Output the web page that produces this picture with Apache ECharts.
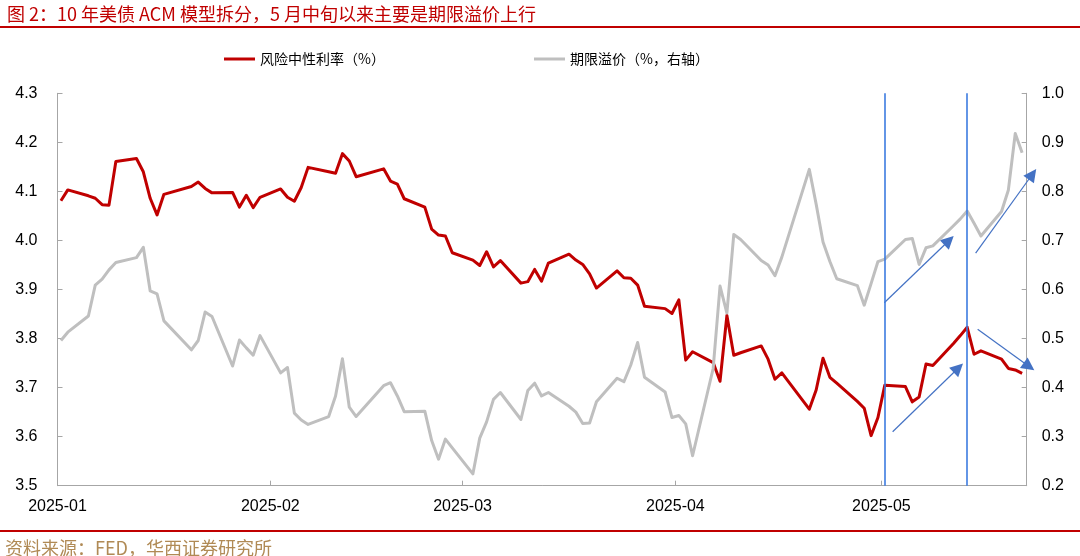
<!DOCTYPE html>
<html><head><meta charset="utf-8">
<script src="https://cdn.jsdelivr.net/npm/echarts@6/dist/echarts.min.js"></script>
<style>html,body{margin:0;padding:0;background:#fff}#c{width:1080px;height:556px}</style>
</head><body><div id="c"></div>
<script>
// ---------- data ----------
const dates = [
 '2025-01-02','2025-01-03','2025-01-06','2025-01-07','2025-01-08','2025-01-09','2025-01-10','2025-01-13','2025-01-14','2025-01-15','2025-01-16','2025-01-17','2025-01-21','2025-01-22','2025-01-23','2025-01-24','2025-01-27','2025-01-28','2025-01-29','2025-01-30','2025-01-31',
 '2025-02-03','2025-02-04','2025-02-05','2025-02-06','2025-02-07','2025-02-10','2025-02-11','2025-02-12','2025-02-13','2025-02-14','2025-02-18','2025-02-19','2025-02-20','2025-02-21','2025-02-24','2025-02-25','2025-02-26','2025-02-27','2025-02-28',
 '2025-03-03','2025-03-04','2025-03-05','2025-03-06','2025-03-07','2025-03-10','2025-03-11','2025-03-12','2025-03-13','2025-03-14','2025-03-17','2025-03-18','2025-03-19','2025-03-20','2025-03-21','2025-03-24','2025-03-25','2025-03-26','2025-03-27','2025-03-28','2025-03-31',
 '2025-04-01','2025-04-02','2025-04-03','2025-04-04','2025-04-07','2025-04-08','2025-04-09','2025-04-10','2025-04-11','2025-04-14','2025-04-15','2025-04-16','2025-04-17','2025-04-21','2025-04-22','2025-04-23','2025-04-24','2025-04-25','2025-04-28','2025-04-29','2025-04-30',
 '2025-05-01','2025-05-02','2025-05-05','2025-05-06','2025-05-07','2025-05-08','2025-05-09','2025-05-12','2025-05-13','2025-05-14','2025-05-15','2025-05-16','2025-05-19','2025-05-20','2025-05-21','2025-05-22'
];
const riskNeutralRate = [
 4.081,4.103,4.091,4.086,4.073,4.072,4.161,4.167,4.140,4.086,4.052,4.094,4.110,4.119,4.106,4.097,4.098,4.068,4.092,4.067,4.088,
 4.105,4.088,4.080,4.108,4.149,4.140,4.137,4.177,4.162,4.130,4.146,4.121,4.115,4.085,4.068,4.023,4.011,4.009,3.975,
 3.960,3.949,3.977,3.946,3.959,3.913,3.916,3.941,3.917,3.954,3.972,3.960,3.951,3.932,3.903,3.938,3.924,3.923,3.909,3.866,3.861,
 3.851,3.879,3.756,3.773,3.751,3.713,3.847,3.766,3.771,3.785,3.758,3.717,3.730,3.656,3.695,3.760,3.721,3.709,3.672,3.658,3.602,
 3.639,3.705,3.702,3.671,3.681,3.748,3.745,3.790,3.806,3.823,3.768,3.775,3.758,3.739,3.736,3.729
];
const termPremium = [
 0.496,0.513,0.546,0.609,0.621,0.640,0.655,0.665,0.686,0.597,0.591,0.536,0.477,0.496,0.554,0.545,0.444,0.497,0.481,0.466,0.506,
 0.430,0.441,0.348,0.334,0.325,0.341,0.383,0.459,0.360,0.341,0.404,0.410,0.383,0.351,0.352,0.292,0.254,0.295,0.277,
 0.224,0.297,0.330,0.376,0.390,0.335,0.394,0.409,0.383,0.390,0.362,0.350,0.327,0.328,0.371,0.419,0.412,0.446,0.492,0.421,0.391,
 0.339,0.343,0.326,0.261,0.439,0.607,0.552,0.712,0.702,0.659,0.650,0.628,0.666,0.845,0.774,0.697,0.657,0.622,0.608,0.568,0.612,
 0.657,0.662,0.702,0.704,0.651,0.685,0.689,0.730,0.744,0.760,0.735,0.709,0.759,0.803,0.918,0.879
];
const seriesNames = ['风险中性利率（%）', '期限溢价（%，右轴）'];
const monthTickLabels = ['2025-01','2025-02','2025-03','2025-04','2025-05'];
const leftAxisRange = [3.5, 4.3];
const rightAxisRange = [0.2, 1.0];
// annotation markers (dates and values in axis units)
const markerDates = ['2025-05-02', '2025-05-14'];
const arrowsRightAxis = [
  [['2025-05-01 22:05', 0.573], ['2025-05-11 08:24', 0.700]],
  [['2025-05-15 05:31', 0.674], ['2025-05-23 12:00', 0.835]]
];
const arrowsLeftAxis = [
  [['2025-05-03 03:22', 3.610], ['2025-05-12 17:02', 3.740]],
  [['2025-05-15 12:29', 3.819], ['2025-05-23 00:14', 3.743]]
];
const titleText = '图 2：10 年美债 ACM 模型拆分，5 月中旬以来主要是期限溢价上行';
const sourceText = '资料来源：FED，华西证券研究所';

// ---------- helpers ----------
function parseT(s) {
  const [d, t] = s.split(' ');
  const [y, m, dd] = d.split('-').map(Number);
  let hh = 0, mm = 0;
  if (t) { [hh, mm] = t.split(':').map(Number); }
  return new Date(y, m - 1, dd, hh, mm).getTime();
}
const xMin = new Date(2025, 0, 1, 12).getTime();
const xMax = new Date(2025, 4, 22, 16).getTime();
const tickVals = monthTickLabels.map(s => new Date(+s.slice(0, 4), +s.slice(5) - 1, 1, 12).getTime());
const fmtMonth = v => { const d = new Date(v); return d.getFullYear() + '-' + String(d.getMonth() + 1).padStart(2, '0'); };

const redData = dates.map((d, i) => [parseT(d), riskNeutralRate[i]]);
const grayData = dates.map((d, i) => [parseT(d), termPremium[i]]);

const BLUE = '#4472C4';
const VBLUE = '#3D7BE0';
const axisColor = '#A6A6A6';
const lab = { color: '#000', fontSize: 16, fontFamily: 'Liberation Sans, Arial, sans-serif' };
const cjk = 'Noto Sans CJK SC';
const toCoords = a => ({ coords: a.map(p => [parseT(p[0]), p[1]]) });

const chart = echarts.init(document.getElementById('c'), null, { renderer: 'canvas' });
chart.setOption({
  animation: false,
  backgroundColor: '#fff',
  textStyle: { fontFamily: cjk },
  title: [
    { text: titleText, left: 2, top: 0, textStyle: { fontSize: 18, fontWeight: 'normal', color: '#C00000', fontFamily: cjk } },
    { text: sourceText, left: 0, top: 534, textStyle: { fontSize: 18, fontWeight: 'normal', color: '#B08A55', fontFamily: cjk } }
  ],
  graphic: [
    { type: 'line', shape: { x1: 0, y1: 27, x2: 1080, y2: 27 }, style: { stroke: '#C00000', lineWidth: 2 } },
    { type: 'line', shape: { x1: 0, y1: 531, x2: 1080, y2: 531 }, style: { stroke: '#C00000', lineWidth: 2 } }
  ],
  legend: [
    { data: [seriesNames[0]], left: 219, top: 47, icon: 'rect', itemWidth: 31, itemHeight: 3, itemGap: 0,
      textStyle: { fontSize: 14, color: '#000', fontFamily: cjk } },
    { data: [seriesNames[1]], left: 529, top: 47, icon: 'rect', itemWidth: 31, itemHeight: 3, itemGap: 0,
      textStyle: { fontSize: 14, color: '#000', fontFamily: cjk } }
  ],
  grid: { left: 57.5, right: 53.3, top: 93.3, bottom: 70.3, containLabel: false },
  xAxis: {
    type: 'value', min: xMin, max: xMax,
    axisLine: { show: true, lineStyle: { color: axisColor, width: 1 } },
    axisTick: { show: true, inside: true, length: 5, customValues: tickVals, lineStyle: { color: axisColor } },
    axisLabel: Object.assign({ customValues: tickVals, formatter: fmtMonth, margin: 13, hideOverlap: false, showMinLabel: true }, lab),
    splitLine: { show: false }, minorTick: { show: false }
  },
  yAxis: [
    { type: 'value', position: 'left', min: leftAxisRange[0], max: leftAxisRange[1], interval: 0.1,
      axisLine: { show: true, lineStyle: { color: axisColor } },
      axisTick: { show: true, inside: true, length: 5, lineStyle: { color: axisColor } },
      axisLabel: Object.assign({ formatter: v => v.toFixed(1), margin: 20 }, lab),
      splitLine: { show: false } },
    { type: 'value', position: 'right', min: rightAxisRange[0], max: rightAxisRange[1], interval: 0.1,
      axisLine: { show: true, lineStyle: { color: axisColor } },
      axisTick: { show: true, inside: true, length: 5, lineStyle: { color: axisColor } },
      axisLabel: Object.assign({ formatter: v => v.toFixed(1), margin: 15 }, lab),
      splitLine: { show: false } }
  ],
  series: [
    { name: seriesNames[0], type: 'line', yAxisIndex: 0, data: redData, symbol: 'none', showSymbol: false,
      lineStyle: { color: '#C00000', width: 3, join: 'round' }, itemStyle: { color: '#C00000' },
      markLine: { silent: true, symbol: ['none', 'none'], label: { show: false },
        lineStyle: { color: VBLUE, width: 1.6, type: 'solid', opacity: 1 },
        emphasis: { disabled: true },
        data: markerDates.map(d => ({ xAxis: parseT(d) })) } },
    { name: seriesNames[1], type: 'line', yAxisIndex: 1, data: grayData, symbol: 'none', showSymbol: false,
      lineStyle: { color: '#BFBFBF', width: 3, join: 'round' }, itemStyle: { color: '#BFBFBF' } },
    { type: 'lines', coordinateSystem: 'cartesian2d', xAxisIndex: 0, yAxisIndex: 1, clip: false, silent: true,
      symbol: ['none', 'triangle'], symbolSize: [0, 13],
      lineStyle: { color: BLUE, width: 1.2, opacity: 1, curveness: 0 }, itemStyle: { color: BLUE },
      data: arrowsRightAxis.map(toCoords) },
    { type: 'lines', coordinateSystem: 'cartesian2d', xAxisIndex: 0, yAxisIndex: 0, clip: false, silent: true,
      symbol: ['none', 'triangle'], symbolSize: [0, 13],
      lineStyle: { color: BLUE, width: 1.2, opacity: 1, curveness: 0 }, itemStyle: { color: BLUE },
      data: arrowsLeftAxis.map(toCoords) }
  ]
});
</script></body></html>
